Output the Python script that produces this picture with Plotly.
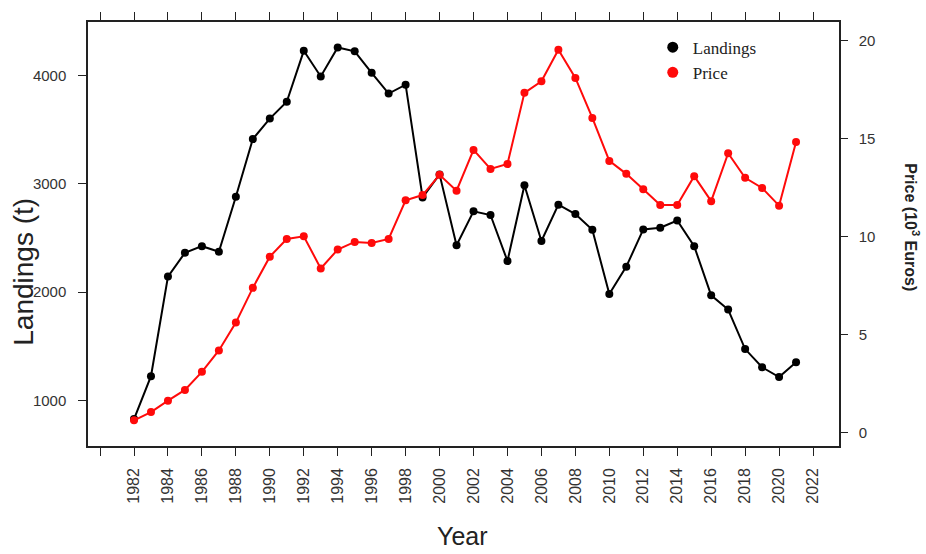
import plotly.graph_objects as go

years = list(range(1982, 2022))
landings = [828, 1224, 2143, 2363, 2424, 2372, 2880, 3413, 3602, 3757,
            4228, 3991, 4259, 4223, 4025, 3833, 3915, 2874, 3087, 2433,
            2746, 2712, 2287, 2986, 2472, 2807, 2721, 2575, 1982, 2235,
            2579, 2594, 2661, 2424, 1970, 1839, 1474, 1306, 1215, 1352]
price = [0.63, 1.05, 1.63, 2.18, 3.10, 4.19, 5.61, 7.38, 8.97, 9.87,
         10.01, 8.37, 9.33, 9.72, 9.67, 9.87, 11.84, 12.11, 13.14, 12.33,
         14.41, 13.44, 13.69, 17.32, 17.91, 19.52, 18.08, 16.04, 13.85, 13.19,
         12.41, 11.60, 11.60, 13.07, 11.80, 14.24, 12.99, 12.47, 11.57, 14.81]

x_ticks = list(range(1982, 2023, 2))
y_ticks = [1000, 2000, 3000, 4000]
y2_ticks = [0, 5, 10, 15, 20]

SANS = "Liberation Sans, Arial, sans-serif"
SERIF = "Liberation Serif, Times New Roman, serif"
AX = "#222222"
TXT = "#333333"

fig = go.Figure()
fig.add_trace(go.Scatter(x=years, y=landings, mode="lines+markers",
                         line=dict(color="black", width=2),
                         marker=dict(color="black", size=8),
                         showlegend=False, yaxis="y"))
fig.add_trace(go.Scatter(x=years, y=price, mode="lines+markers",
                         line=dict(color="#ff0a0a", width=2),
                         marker=dict(color="#ff0a0a", size=8),
                         showlegend=False, yaxis="y2"))
# legend-only entries (dots)
fig.add_trace(go.Scatter(x=[None], y=[None], mode="markers", name="Landings",
                         marker=dict(color="black", size=11), yaxis="y"))
fig.add_trace(go.Scatter(x=[None], y=[None], mode="markers", name="Price",
                         marker=dict(color="#ff0a0a", size=11), yaxis="y2"))

fig.update_layout(
    width=926, height=554,
    margin=dict(l=88, r=87, t=18, b=108),
    paper_bgcolor="white", plot_bgcolor="white",
    showlegend=True,
    legend=dict(x=0.752, y=0.982, xanchor="left", yanchor="top",
                font=dict(family=SERIF, size=17, color="#222"),
                bgcolor="rgba(0,0,0,0)", borderwidth=0, itemwidth=30),
    xaxis=dict(range=[1979.29, 2023.53], tickmode="array", tickvals=x_ticks,
               tickangle=-90, ticks="outside", ticklen=8,
               tickwidth=1.3, tickcolor=AX, showline=True, linecolor=AX,
               linewidth=1.5, mirror="ticks", showgrid=False, zeroline=False,
               tickfont=dict(family=SANS, size=16, color=TXT),
               ticklabelstandoff=6,
               minor=dict(tick0=1980, dtick=2, ticks="outside", ticklen=8,
                          tickwidth=1.3, tickcolor=AX, showgrid=False)),
    yaxis=dict(range=[579, 4494], tickmode="array", tickvals=y_ticks,
               ticks="outside", ticklen=8, tickwidth=1.3, tickcolor=AX,
               showline=True, linecolor=AX, linewidth=1.5, showgrid=False,
               zeroline=False, tickfont=dict(family=SANS, size=15, color=TXT),
               ticklabelstandoff=9),
    yaxis2=dict(range=[-0.68, 20.93], tickmode="array", tickvals=y2_ticks,
                overlaying="y", side="right", ticks="outside", ticklen=7,
                tickwidth=1.3, tickcolor=AX, showline=True, linecolor=AX,
                linewidth=1.5, showgrid=False, zeroline=False,
                tickfont=dict(family=SANS, size=15, color=TXT),
                ticklabelstandoff=8),
    annotations=[
        dict(text="Landings (t)", x=-0.0852, y=0.411, xref="paper", yref="paper",
             textangle=-90, showarrow=False, xanchor="center", yanchor="middle",
             font=dict(family=SANS, size=28, color="#222")),
        dict(text="Year", x=0.4993, y=-0.2126, xref="paper", yref="paper",
             showarrow=False, xanchor="center", yanchor="middle",
             font=dict(family=SANS, size=25, color="#222")),
        dict(text="<b>Price (10<sup>3</sup> Euros)</b>", x=1.0972, y=0.516,
             xref="paper", yref="paper", textangle=90, showarrow=False,
             xanchor="center", yanchor="middle",
             font=dict(family=SANS, size=16, color="#222")),
    ],
)

fig.write_html("out.html", config={"displayModeBar": False},
               post_script="document.body.style.margin='0';document.body.style.padding='0';")
